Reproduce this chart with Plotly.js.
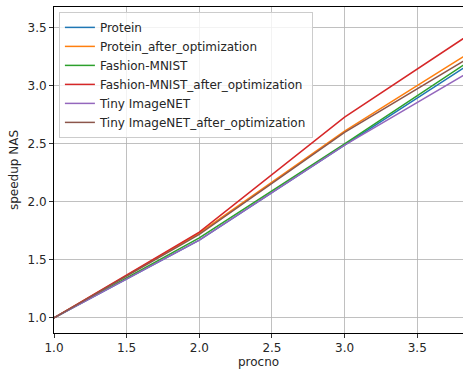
<!DOCTYPE html>
<html>
<head>
<meta charset="utf-8">
<script src="https://cdn.plot.ly/plotly-3.0.1.min.js"></script>
<style>html,body{margin:0;padding:0;background:#fff;}#chart{width:464px;height:369px;}</style>
</head>
<body>
<div id="chart"></div>
<script>
const procno = [1, 2, 3, 4];
const seriesNames = ["Protein", "Protein_after_optimization", "Fashion-MNIST", "Fashion-MNIST_after_optimization", "Tiny ImageNET", "Tiny ImageNET_after_optimization"];
const protein = [1.0, 1.67, 2.49, 3.30];
const proteinOpt = [1.0, 1.73, 2.61, 3.395];
const fashion = [1.0, 1.69, 2.50, 3.33];
const fashionOpt = [1.0, 1.74, 2.73, 3.56];
const tiny = [1.0, 1.67, 2.49, 3.225];
const tinyOpt = [1.0, 1.72, 2.60, 3.35];
const allSeries = [protein, proteinOpt, fashion, fashionOpt, tiny, tinyOpt];
const colors = ["#1f77b4", "#ff7f0e", "#2ca02c", "#d62728", "#9467bd", "#8c564b"];

const traces = allSeries.map((ys, i) => ({
  x: procno, y: ys, type: "scatter", mode: "lines", name: seriesNames[i],
  line: {color: colors[i], width: 1.5}
}));

const axisCommon = {
  showgrid: true, gridcolor: "#b0b0b0", gridwidth: 0.8,
  showline: true, linecolor: "#000", linewidth: 1,
  ticks: "outside", ticklen: 4, tickcolor: "#000", tickwidth: 0.8,
  zeroline: false, tickfont: {size: 12, color: "#262626"}
};

const layout = {
  width: 464, height: 369,
  margin: {l: 54, r: 1, t: 7, b: 36},
  paper_bgcolor: "#fff", plot_bgcolor: "#fff",
  font: {family: "DejaVu Sans", size: 12, color: "#262626"},
  xaxis: Object.assign({}, axisCommon, {
    mirror: true,
    range: [1, 3.815], tickvals: [1, 1.5, 2, 2.5, 3, 3.5], ticktext: ["1.0","1.5","2.0","2.5","3.0","3.5"],
    title: {text: "procno", font: {size: 12, color: "#262626"}, standoff: 2}
  }),
  yaxis: Object.assign({}, axisCommon, {
    mirror: false,
    range: [0.87, 3.68], tickvals: [1, 1.5, 2, 2.5, 3, 3.5], ticktext: ["1.0","1.5","2.0","2.5","3.0","3.5"],
    title: {text: "speedup NAS", font: {size: 12, color: "#262626"}, standoff: 6}
  }),
  showlegend: true,
  legend: {x: 0.012, y: 0.985, xanchor: "left", yanchor: "top",
    bgcolor: "rgba(255,255,255,0.8)", bordercolor: "#cccccc", borderwidth: 1,
    font: {size: 12, color: "#262626"}, tracegroupgap: 0, itemwidth: 30}
};

Plotly.newPlot("chart", traces, layout, {displayModeBar: false, staticPlot: true});
</script>
</body>
</html>
